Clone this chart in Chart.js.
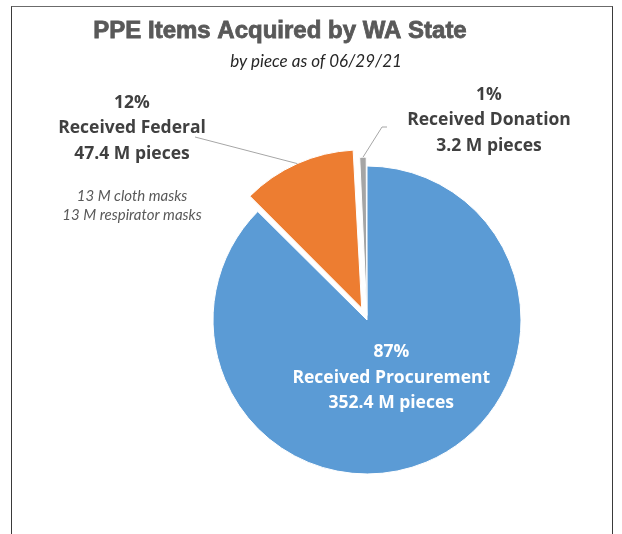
<!DOCTYPE html>
<html>
<head>
<meta charset="utf-8">
<script src="https://cdn.jsdelivr.net/npm/chart.js@4"></script>
<style>
  html, body { margin: 0; padding: 0; background: #fff; }
  #wrap { position: relative; width: 622px; height: 534px; overflow: hidden; }
  #frame {
    position: absolute; left: 11px; top: 6px; width: 600px; height: 600px;
    border: 1px solid #3a3a3a; border-top-color: #6b6b6b;
  }
  canvas { position: absolute; left: 0; top: 0; }
</style>
</head>
<body>
<div id="wrap">
  <div id="frame"></div>
  <canvas id="chart" width="622" height="534"></canvas>
</div>
<script>
// data
const categories = ['Received Procurement', 'Received Federal', 'Received Donation'];
const pieces = [352.4, 47.4, 3.2];           // millions of pieces
const sliceColors = ['#5B9BD5', '#ED7D31', '#A5A5A5'];
const sliceOffsets = [0, 52, 18];            // chart.js moves a slice by offset / 4
const federalNotes = ['13 M cloth masks', '13 M respirator masks'];
const titleText = 'PPE Items Acquired by WA State';
const subtitleText = 'by piece as of 06/29/21';

const total = pieces.reduce((a, b) => a + b, 0);
const pct = v => Math.round(v / total * 100) + '%';

// point on a slice along its middle angle, fraction f of the radius,
// following how ArcElement shifts and grows an offset slice
function slicePoint(arc, f, extra) {
    const p = arc.getProps(['x', 'y', 'startAngle', 'endAngle', 'outerRadius', 'circumference']);
    const mid = (p.startAngle + p.endAngle) / 2;
    const shift = (arc.options.offset || 0) / 4;
    const grow = shift * (1 - Math.sin(Math.min(Math.PI, p.circumference || 0)));
    const d = (p.outerRadius + grow) * f + shift + (extra || 0);
    return { x: p.x + Math.cos(mid) * d, y: p.y + Math.sin(mid) * d };
}

function lines(ctx, arr, x, y, step) {
    arr.forEach((t, i) => ctx.fillText(t, x, y + i * step));
}

const labelFont = 'bold 17.5px "Open Sans", "Noto Sans", sans-serif';

const annotations = {
    id: 'annotations',
    afterDraw(chart) {
        const ctx = chart.ctx;
        const arcs = chart.getDatasetMeta(0).data;
        ctx.save();
        ctx.textAlign = 'center';
        ctx.textBaseline = 'middle';

        // title (a thin stroke makes it as heavy as the original) + subtitle
        ctx.fillStyle = '#595959';
        ctx.strokeStyle = '#595959';
        ctx.lineWidth = 0.8;
        ctx.font = 'bold 24px "Liberation Sans", Arial, sans-serif';
        ctx.fillText(titleText, 280, 31);
        ctx.strokeText(titleText, 280, 31);
        ctx.fillStyle = '#262626';
        ctx.font = 'italic 17px Lato, sans-serif';
        ctx.fillText(subtitleText, 316, 62);

        // leader lines
        ctx.strokeStyle = '#A6A6A6';
        ctx.lineWidth = 1;
        const fed = slicePoint(arcs[1], 1, 0);
        ctx.beginPath();
        ctx.moveTo(195, 137);
        ctx.lineTo(fed.x, fed.y);
        ctx.stroke();
        const don = slicePoint(arcs[2], 1, 0);
        ctx.beginPath();
        ctx.moveTo(387, 127);
        ctx.lineTo(382, 127);
        ctx.lineTo(don.x, don.y);
        ctx.stroke();

        // procurement label inside the slice
        const inside = slicePoint(arcs[0], 0.41, 0);
        ctx.fillStyle = '#FFFFFF';
        ctx.font = labelFont;
        lines(ctx, [pct(pieces[0]), categories[0], pieces[0] + ' M pieces'], inside.x, inside.y - 26, 25.5);

        // federal label
        ctx.fillStyle = '#404040';
        lines(ctx, [pct(pieces[1]), categories[1], pieces[1] + ' M pieces'], 132, 103, 25.5);
        ctx.fillStyle = '#595959';
        ctx.font = 'italic 15px Lato, sans-serif';
        lines(ctx, federalNotes, 132, 196, 19);

        // donation label
        ctx.fillStyle = '#404040';
        ctx.font = labelFont;
        lines(ctx, [pct(pieces[2]), categories[2], pieces[2] + ' M pieces'], 489, 95, 25.5);
        ctx.restore();
    }
};

new Chart(document.getElementById('chart').getContext('2d'), {
    type: 'pie',
    data: {
        labels: categories,
        datasets: [{
            data: pieces,
            backgroundColor: sliceColors,
            offset: sliceOffsets,
            borderColor: '#FFFFFF',
            borderWidth: 1,
            radius: 154
        }]
    },
    options: {
        responsive: false,
        animation: false,
        layout: { padding: { left: 212, right: 100, top: 160, bottom: 54 } },
        plugins: {
            legend: { display: false },
            tooltip: { enabled: false },
            title: { display: false }
        }
    },
    plugins: [annotations]
});
</script>
</body>
</html>
